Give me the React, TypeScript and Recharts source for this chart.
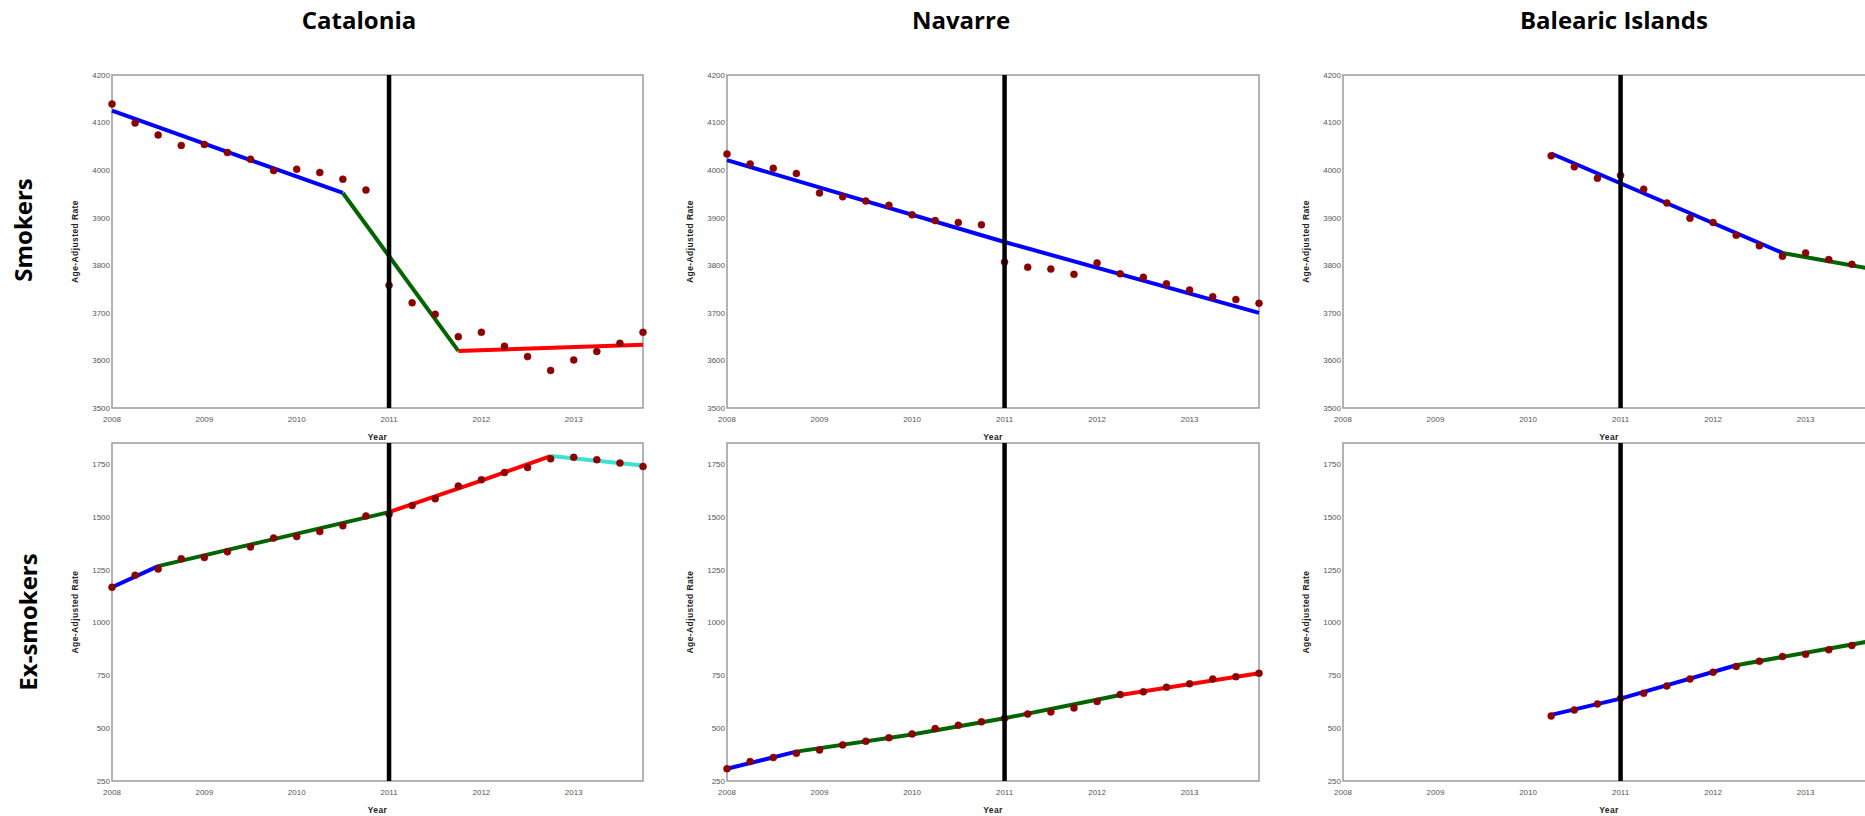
import React from 'react';
import { ComposedChart, Line, XAxis, YAxis, ReferenceArea } from 'recharts';

// ---------- data ----------
const QUARTERS = [
  2008, 2008.25, 2008.5, 2008.75, 2009, 2009.25, 2009.5, 2009.75,
  2010, 2010.25, 2010.5, 2010.75, 2011, 2011.25, 2011.5, 2011.75,
  2012, 2012.25, 2012.5, 2012.75, 2013, 2013.25, 2013.5, 2013.75,
];
const X_DOMAIN = [2008, 2013.75];
const YEAR_TICKS = [2008, 2009, 2010, 2011, 2012, 2013];
const CUT_YEAR = 2011;

const SMOKER_DOMAIN = [3500, 4200];
const SMOKER_TICKS = [3500, 3600, 3700, 3800, 3900, 4000, 4100, 4200];
const EX_DOMAIN = [250, 1850];
const EX_TICKS = [250, 500, 750, 1000, 1250, 1500, 1750];

const REGIONS = ['Catalonia', 'Navarre', 'Balearic Islands'];
const ROWS = ['Smokers', 'Ex-smokers'];

// observed quarterly age-adjusted rates
const catSmokersObs = [4139, 4099, 4074, 4052, 4054, 4037, 4023, 3999, 4002, 3995, 3981, 3958, 3758, 3721, 3697, 3650, 3659, 3630, 3608, 3579, 3601, 3619, 3636, 3659];
const navSmokersObs = [4034, 4013, 4004, 3993, 3952, 3944, 3935, 3926, 3906, 3894, 3890, 3885, 3807, 3796, 3792, 3781, 3805, 3782, 3775, 3761, 3748, 3734, 3728, 3720];
const balSmokersObs = [null, null, null, null, null, null, null, null, null, 4030, 4007, 3983, 3989, 3960, 3931, 3899, 3890, 3863, 3841, 3819, 3826, 3812, 3802, 3792];
const catExObs = [1167, 1224, 1254, 1302, 1308, 1335, 1358, 1400, 1407, 1431, 1458, 1505, 1513, 1554, 1586, 1646, 1676, 1710, 1734, 1775, 1782, 1771, 1755, 1739];
const navExObs = [308, 342, 361, 381, 397, 421, 438, 455, 473, 498, 514, 530, 547, 567, 577, 596, 626, 659, 672, 694, 710, 733, 744, 760];
const balExObs = [null, null, null, null, null, null, null, null, null, 558, 586, 615, 642, 665, 700, 733, 765, 792, 817, 839, 850, 871, 891, 912];

// fitted joinpoint segments: [year, rate]
const catSmokersBlue = [[2008, 4125], [2010.5, 3952]];
const catSmokersGreen = [[2010.5, 3952], [2011.75, 3620]];
const catSmokersRed = [[2011.75, 3620], [2013.75, 3633]];
const navSmokersBlue = [[2008, 4021], [2011, 3849], [2013.75, 3700]];
const balSmokersBlue = [[2010.25, 4035], [2012.75, 3826]];
const balSmokersGreen = [[2012.75, 3826], [2013.75, 3791]];
const catExBlue = [[2008, 1167], [2008.5, 1267]];
const catExGreen = [[2008.5, 1267], [2011, 1523]];
const catExRed = [[2011, 1523], [2012, 1672], [2012.75, 1788]];
const catExCyan = [[2012.75, 1788], [2013.75, 1744]];
const navExBlue = [[2008, 308], [2008.75, 389]];
const navExGreen = [[2008.75, 389], [2010, 470], [2011, 547], [2012.25, 657]];
const navExRed = [[2012.25, 657], [2013.75, 760]];
const balExBlue = [[2010.25, 563], [2011, 640], [2012.25, 798]];
const balExGreen = [[2012.25, 798], [2013.75, 916]];

const BLUE = '#0000ff';
const GREEN = '#006400';
const RED = '#ff0000';
const CYAN = '#40e0d0';
const DOT = '#8b0000';

// ---------- layout ----------
const COLS = [
  { plotLeft: 112, plotW: 531, titleX: 359 },
  { plotLeft: 727, plotW: 532, titleX: 961 },
  { plotLeft: 1343, plotW: 532, titleX: 1614 },
];
const ROW_LAYOUT = [
  { plotTop: 75, plotH: 333, labelX: 32, labelY: 230 },
  { plotTop: 443, plotH: 338, labelX: 36.5, labelY: 622 },
];

const tickStyle = {
  fontSize: 8,
  fill: '#555',
  fontFamily: "'Liberation Sans Narrow', 'Liberation Sans', Arial, sans-serif",
};

const YearLabel = (props: any) => {
  const vb = props.viewBox || {};
  return (
    <text x={vb.x + vb.width / 2} y={vb.y + 29} textAnchor="middle" dominantBaseline="central"
      fontSize={8.5} fontWeight="bold" fill="#222" letterSpacing={0.4}
      fontFamily="'Liberation Sans', Arial, sans-serif">Year</text>
  );
};

const RateLabel = (props: any) => {
  const vb = props.viewBox || {};
  const x = vb.x + vb.width - 37;
  const y = vb.y + vb.height / 2;
  return (
    <text x={x} y={y} transform={`rotate(-90 ${x} ${y})`} textAnchor="middle" dominantBaseline="central"
      fontSize={8.5} fontWeight="bold" fill="#222" letterSpacing={0.4}
      fontFamily="'Liberation Sans', Arial, sans-serif">Age-Adjusted Rate</text>
  );
};

type Seg = { color: string; pts: number[][] };

function Panel(props: {
  plotLeft: number; plotTop: number; plotW: number; plotH: number;
  yDomain: number[]; yTicks: number[]; obs: (number | null)[]; segs: Seg[]; id: string;
}) {
  const { plotLeft, plotTop, plotW, plotH, yDomain, yTicks, obs, segs } = props;
  const YW = 60, TM = 5, RM = 5, XH = 40;
  const obsData = QUARTERS.map((x, i) => ({ x, y: obs[i] })).filter((d) => d.y !== null);
  const cutData = [{ x: CUT_YEAR, y: yDomain[0] }, { x: CUT_YEAR, y: yDomain[1] }];
  const extra: any = { zIndex: 3000 };
  return (
    <div style={{ position: 'absolute', left: plotLeft - YW, top: plotTop - TM }}>
      <ComposedChart width={YW + plotW + RM} height={TM + plotH + XH}
        margin={{ top: TM, right: RM, left: 0, bottom: 0 }}>
        <XAxis type="number" dataKey="x" domain={X_DOMAIN} ticks={YEAR_TICKS} interval={0}
          height={XH} tickSize={0} tickMargin={8} axisLine={false} tick={tickStyle}
          label={YearLabel} />
        <YAxis type="number" dataKey="y" domain={yDomain} ticks={yTicks} interval={0}
          width={YW} tickSize={0} tickMargin={2} axisLine={false} tick={tickStyle}
          label={RateLabel} />
        <ReferenceArea x1={X_DOMAIN[0]} x2={X_DOMAIN[1]} y1={yDomain[0]} y2={yDomain[1]}
          fill="none" fillOpacity={0} stroke="#9a9a9a" strokeWidth={1.5} ifOverflow="visible" />
        {segs.map((s, i) => (
          <Line key={`seg${i}`} data={s.pts.map(([x, y]) => ({ x, y }))} dataKey="y" type="linear"
            stroke={s.color} strokeWidth={4} dot={false} activeDot={false} isAnimationActive={false} />
        ))}
        <Line data={obsData} dataKey="y" type="linear" stroke="none" strokeWidth={0}
          dot={{ r: 3.5, fill: DOT, stroke: DOT, strokeWidth: 0.5 }} activeDot={false}
          isAnimationActive={false} />
        <Line data={cutData} dataKey="y" type="linear" stroke="#000" strokeWidth={4.5}
          dot={false} activeDot={false} isAnimationActive={false} {...extra} />
      </ComposedChart>
    </div>
  );
}

const PANELS = [
  { col: 0, row: 0, obs: catSmokersObs, segs: [{ color: BLUE, pts: catSmokersBlue }, { color: GREEN, pts: catSmokersGreen }, { color: RED, pts: catSmokersRed }] },
  { col: 1, row: 0, obs: navSmokersObs, segs: [{ color: BLUE, pts: navSmokersBlue }] },
  { col: 2, row: 0, obs: balSmokersObs, segs: [{ color: BLUE, pts: balSmokersBlue }, { color: GREEN, pts: balSmokersGreen }] },
  { col: 0, row: 1, obs: catExObs, segs: [{ color: BLUE, pts: catExBlue }, { color: GREEN, pts: catExGreen }, { color: RED, pts: catExRed }, { color: CYAN, pts: catExCyan }] },
  { col: 1, row: 1, obs: navExObs, segs: [{ color: BLUE, pts: navExBlue }, { color: GREEN, pts: navExGreen }, { color: RED, pts: navExRed }] },
  { col: 2, row: 1, obs: balExObs, segs: [{ color: BLUE, pts: balExBlue }, { color: GREEN, pts: balExGreen }] },
];

export default function App() {
  return (
    <div style={{ position: 'absolute', left: 0, top: 0, width: 1865, height: 816, overflow: 'hidden', background: '#fff' }}>
      {PANELS.map((p, i) => {
        const c = COLS[p.col];
        const r = ROW_LAYOUT[p.row];
        return (
          <Panel key={i} id={`p${i}`} plotLeft={c.plotLeft} plotW={c.plotW} plotTop={r.plotTop} plotH={r.plotH}
            yDomain={p.row === 0 ? SMOKER_DOMAIN : EX_DOMAIN} yTicks={p.row === 0 ? SMOKER_TICKS : EX_TICKS}
            obs={p.obs} segs={p.segs} />
        );
      })}
      <svg width={1865} height={816} style={{ position: 'absolute', left: 0, top: 0, pointerEvents: 'none' }}>
        {REGIONS.map((name, i) => (
          <text key={name} x={COLS[i].titleX} y={28.5} textAnchor="middle" fontSize={24} fontWeight="bold"
            fill="#000" fontFamily="'Open Sans', sans-serif">{name}</text>
        ))}
        {ROWS.map((name, i) => {
          const r = ROW_LAYOUT[i];
          return (
            <text key={name} x={r.labelX} y={r.labelY} transform={`rotate(-90 ${r.labelX} ${r.labelY})`}
              textAnchor="middle" fontSize={24} fontWeight="bold" fill="#000"
              fontFamily="'Open Sans', sans-serif">{name}</text>
          );
        })}
      </svg>
    </div>
  );
}
